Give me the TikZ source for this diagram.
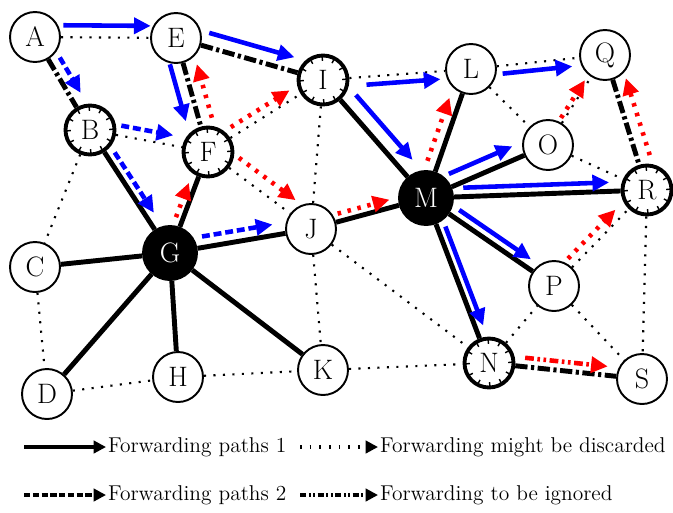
\documentclass[tikz,border=0pt]{standalone}
\usetikzlibrary{arrows.meta,calc}
\newcommand\fwl[6]{\draw[#1] ($(#2)!#4!(#3)!#6!90:(#3)$) -- ($(#2)!#5!(#3)!#6!-90:(#2)$);}
\newcommand\fwr[6]{\draw[#1] ($(#2)!#4!(#3)!#6!-90:(#3)$) -- ($(#2)!#5!(#3)!#6!90:(#2)$);}
\begin{document}
\begin{tikzpicture}[x=0.02cm,y=-0.02cm,
  nd/.style={circle,draw,line width=1.1pt,minimum size=1.0cm,inner sep=0pt,fill=white,font=\fontsize{16}{18}\selectfont},
  blk/.style={nd,fill=black,text=white,minimum size=1.08cm},
  ring/.style={nd,line width=2.2pt,minimum size=0.98cm,
    path picture={\draw[line width=2.6pt,dash pattern=on 0.8pt off 5.6pt] (path picture bounding box.center) circle (0.43cm);}},
  dotedge/.style={line width=1.2pt,dash pattern=on 1.2pt off 4.2pt},
  soledge/.style={line width=2.8pt},
  ddedge/.style={line width=2.8pt,dash pattern=on 7pt off 2pt on 1.8pt off 2pt},
  tip/.style={-{Triangle[length=9.5pt,width=9pt]}},
  bsol/.style={blue,line width=2.6pt,tip},
  bdash/.style={bsol,dash pattern=on 4.5pt off 2.2pt},
  rdot/.style={red,line width=2.6pt,dash pattern=on 2pt off 3.8pt,tip},
  rdd/.style={red,line width=2.6pt,dash pattern=on 5pt off 2pt on 1.5pt off 2pt on 1.5pt off 2pt,tip},
  leg/.style={anchor=west,inner sep=1pt,font=\fontsize{12.2}{14}\selectfont},
  ltip/.style={-{Triangle[length=7pt,width=7pt]}},
  lsol/.style={line width=2.3pt,ltip},
  ldot/.style={line width=2.3pt,dash pattern=on 1pt off 4.5pt,ltip},
  ldash/.style={line width=2.3pt,dash pattern=on 3.5pt off 1.5pt,ltip},
  ldd/.style={line width=2.3pt,dash pattern=on 3.5pt off 1.5pt on 1pt off 1.5pt on 1pt off 1.5pt,ltip}
]
\useasboundingbox (0,0) rectangle (673,512);
% nodes
\node[nd] (A) at (35,37) {A};
\node[nd] (E) at (176,38) {E};
\node[ring] (I) at (323,80) {I};
\node[nd] (L) at (471,69) {L};
\node[nd] (Q) at (605,55) {Q};
\node[ring] (B) at (90,130) {B};
\node[ring] (F) at (208,152) {F};
\node[nd] (O) at (548,145) {O};
\node[blk] (M) at (426,198) {M};
\node[ring] (R) at (647,190) {R};
\node[nd] (C) at (35,267) {C};
\node[blk] (G) at (170,253) {G};
\node[nd] (J) at (311,229) {J};
\node[nd] (P) at (554,286) {P};
\node[nd] (D) at (47,394) {D};
\node[nd] (H) at (178,377) {H};
\node[nd] (K) at (323,370) {K};
\node[ring] (N) at (489,363) {N};
\node[nd] (S) at (642,379) {S};
% dotted edges
\foreach \a/\b in {A/E,B/F,B/C,F/I,F/J,I/L,I/J,L/Q,L/O,O/Q,O/R,J/K,J/N,C/D,D/H,H/K,K/N,N/P,P/R,P/S,R/S}
  \draw[dotedge] (\a) -- (\b);
% solid edges
\foreach \a/\b in {B/G,F/G,C/G,D/G,H/G,K/G,J/G,J/M,I/M,L/M,O/M,R/M,P/M,N/M}
  \draw[soledge] (\a) -- (\b);
% dash-dot edges
\foreach \a/\b in {A/B,E/F,E/I,Q/R,N/S}
  \draw[ddedge] (\a) -- (\b);
% forwarding arrows
\fwl{bsol}{A}{E}{0.2}{0.82}{6.8pt}
\fwl{bsol}{E}{I}{0.2}{0.78}{8pt}
\fwr{bsol}{E}{F}{0.2}{0.7}{7.4pt}
\fwl{bdash}{A}{B}{0.28}{0.66}{6.2pt}
\fwl{bdash}{B}{F}{0.25}{0.69}{5.7pt}
\fwl{bdash}{B}{G}{0.22}{0.71}{4.8pt}
\fwl{bdash}{G}{J}{0.24}{0.74}{6.2pt}
\fwl{rdot}{G}{F}{0.33}{0.67}{4pt}
\fwr{rdot}{F}{E}{0.27}{0.74}{7.4pt}
\fwl{rdot}{F}{I}{0.24}{0.75}{5.1pt}
\fwl{rdot}{F}{J}{0.22}{0.77}{7.9pt}
\fwl{rdot}{J}{M}{0.25}{0.70}{4.5pt}
\fwr{bsol}{I}{L}{0.29}{0.79}{4.5pt}
\fwl{bsol}{I}{M}{0.21}{0.76}{8.5pt}
\fwl{rdot}{M}{L}{0.26}{0.75}{6.2pt}
\fwr{bsol}{L}{Q}{0.23}{0.75}{4.5pt}
\fwl{rdot}{O}{Q}{0.28}{0.70}{2pt}
\fwl{bsol}{M}{O}{0.23}{0.75}{7.4pt}
\fwl{bsol}{M}{R}{0.17}{0.83}{5.1pt}
\fwr{rdot}{R}{Q}{0.23}{0.80}{7.4pt}
\fwl{bsol}{M}{P}{0.22}{0.78}{5.1pt}
\fwl{bsol}{M}{N}{0.19}{0.79}{4.5pt}
\fwl{rdot}{P}{R}{0.22}{0.73}{5.1pt}
\fwl{rdd}{N}{S}{0.23}{0.77}{5.1pt}
% legend
\coordinate (ls1) at (24,447);
\node[leg] (lt1) at (106,447) {Forwarding paths 1};
\draw[lsol] (ls1) -- (lt1.west);
\coordinate (ls2) at (300,447);
\node[leg] (lt2) at (378,447) {Forwarding might be discarded};
\draw[ldot] (ls2) -- (lt2.west);
\coordinate (ls3) at (24,495);
\node[leg] (lt3) at (106,495) {Forwarding paths 2};
\draw[ldash] (ls3) -- (lt3.west);
\coordinate (ls4) at (300,495);
\node[leg] (lt4) at (378,495) {Forwarding to be ignored};
\draw[ldd] (ls4) -- (lt4.west);
\end{tikzpicture}
\end{document}
